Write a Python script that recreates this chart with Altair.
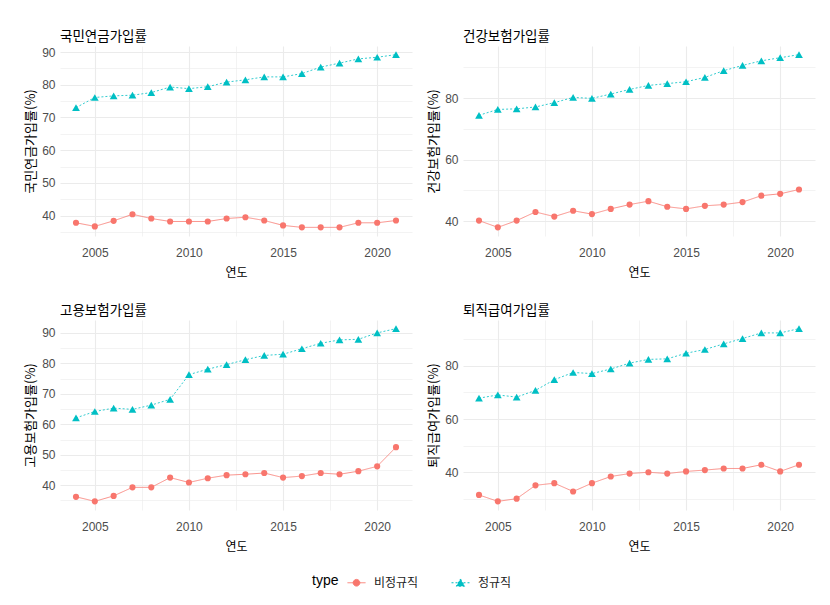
import altair as alt
import pandas as pd

years = list(range(2004, 2022))
types = ["비정규직", "정규직"]
colors = ["#F8766D", "#00BFC4"]
dashes = [[1, 0], [2, 2]]

panel_titles = ["국민연금가입률", "건강보험가입률", "고용보험가입률", "퇴직급여가입률"]

pension_nonreg = [37.8, 36.7, 38.4, 40.4, 39.1, 38.2, 38.2, 38.2, 39.1, 39.5, 38.5, 37.0, 36.4, 36.4, 36.4, 37.8, 37.8, 38.5]
pension_reg = [73.0, 76.1, 76.6, 76.8, 77.6, 79.3, 78.8, 79.4, 80.8, 81.5, 82.4, 82.4, 83.4, 85.4, 86.6, 87.9, 88.4, 89.2]

health_nonreg = [40.2, 38.0, 40.2, 43.0, 41.5, 43.4, 42.3, 44.0, 45.4, 46.5, 44.7, 44.0, 45.0, 45.4, 46.2, 48.3, 48.9, 50.3]
health_reg = [74.4, 76.3, 76.5, 77.1, 78.5, 80.2, 79.9, 81.3, 82.8, 84.1, 84.7, 85.3, 86.7, 88.9, 90.6, 92.1, 93.1, 94.1]

employ_nonreg = [36.2, 34.7, 36.5, 39.3, 39.3, 42.5, 40.9, 42.3, 43.3, 43.6, 44.0, 42.5, 43.0, 44.0, 43.6, 44.6, 46.2, 52.5]
employ_reg = [62.1, 64.2, 65.3, 64.9, 66.3, 68.2, 76.3, 78.1, 79.6, 81.2, 82.6, 83.0, 84.8, 86.6, 87.7, 87.9, 90.0, 91.4]

retire_nonreg = [31.6, 29.2, 30.2, 35.2, 36.0, 32.9, 36.0, 38.5, 39.6, 40.1, 39.6, 40.4, 40.9, 41.5, 41.5, 42.9, 40.4, 42.9]
retire_reg = [67.8, 69.0, 68.2, 70.7, 74.7, 77.4, 77.0, 78.7, 80.9, 82.3, 82.5, 84.6, 86.0, 88.1, 90.1, 92.2, 92.2, 93.8]

x_ticks = [2005, 2007.5, 2010, 2012.5, 2015, 2017.5, 2020]
y_ticks_10 = [35, 40, 45, 50, 55, 60, 65, 70, 75, 80, 85, 90]
y_ticks_20 = [30, 40, 50, 60, 70, 80, 90]

FONT = "Liberation Sans, Noto Sans CJK KR"
KFONT = "Noto Sans CJK KR"

# legend symbols: a line segment with the marker on it
circle_path = "M-1,0L1,0M0.37,0A0.37,0.37 0 1,1 -0.37,0A0.37,0.37 0 1,1 0.37,0Z"
tri_path = "M-1,0L1,0M0,-0.42L0.46,0.38L-0.46,0.38Z"

legend = alt.Legend(
    title="type",
    orient="none",
    legendX=252,
    legendY=527,
    direction="horizontal",
    titleOrient="left",
    titleFont=FONT,
    titleFontSize=14,
    titleFontWeight="normal",
    titleColor="#000000",
    titlePadding=8,
    labelFont=KFONT,
    labelFontSize=12,
    labelColor="#1a1a1a",
    labelOffset=8,
    columnPadding=30,
    symbolSize=324,
    symbolStrokeWidth=1,
    symbolOpacity=1,
)


def panel(title, nonreg, reg, yvals, major_step, with_legend=False):
    df = pd.DataFrame({
        "연도": years + years,
        "value": nonreg + reg,
        "type": [types[0]] * len(years) + [types[1]] * len(years),
    })
    lo = min(nonreg + reg)
    hi = max(nonreg + reg)
    pad = 0.05 * (hi - lo)
    ydom = [lo - pad, hi + pad]
    xpad = 0.05 * (years[-1] - years[0])
    xdom = [years[0] - xpad, years[-1] + xpad]

    xaxis = alt.Axis(
        title="연도",
        values=x_ticks,
        labelExpr="datum.value % 5 === 0 ? datum.label : ''",
        format="d",
        grid=True,
        ticks=False,
        domain=False,
        labelPadding=11,
        titlePadding=9,
        gridColor="#EBEBEB",
        gridWidth={"condition": {"test": "datum.value % 5 !== 0", "value": 0.6}, "value": 1.1},
        labelFlush=False,
    )
    yaxis = alt.Axis(
        title=f"{title}(%)",
        values=[v for v in yvals if ydom[0] <= v <= ydom[1]],
        labelExpr=f"datum.value % {major_step} === 0 ? datum.label : ''",
        grid=True,
        ticks=False,
        domain=False,
        labelPadding=5,
        titlePadding=4,
        titleFontSize=13,
        gridColor="#EBEBEB",
        gridWidth={"condition": {"test": f"datum.value % {major_step} !== 0", "value": 0.6}, "value": 1.1},
    )
    x = alt.X("연도:Q", scale=alt.Scale(domain=xdom, nice=False, zero=False), axis=xaxis)
    y = alt.Y("value:Q", scale=alt.Scale(domain=ydom, nice=False, zero=False), axis=yaxis)

    base = alt.Chart(df)
    layers = []
    shapes = ["circle", "triangle-up"]
    sizes = [38, 60]
    for i, t in enumerate(types):
        sub = base.transform_filter(alt.datum.type == t)
        layers.append(sub.mark_line(strokeWidth=1, opacity=0.8, color=colors[i],
                                    strokeDash=dashes[i]).encode(x=x, y=y))
    for i, t in enumerate(types):
        sub = base.transform_filter(alt.datum.type == t)
        layers.append(sub.mark_point(filled=True, opacity=1, color=colors[i],
                                     shape=shapes[i], size=sizes[i]).encode(x=x, y=y))
    if with_legend:
        leg = base.transform_filter("false").mark_point(filled=True, opacity=1).encode(
            x=x, y=y,
            fill=alt.Fill("type:N", scale=alt.Scale(domain=types, range=colors), legend=legend),
            stroke=alt.Stroke("type:N", scale=alt.Scale(domain=types, range=colors), legend=legend),
            shape=alt.Shape("type:N", scale=alt.Scale(domain=types, range=[circle_path, tri_path]), legend=legend),
            strokeDash=alt.StrokeDash("type:N", scale=alt.Scale(domain=types, range=dashes), legend=legend),
        )
        layers.append(leg)
    return alt.layer(*layers).properties(
        width=352,
        height=190,
        title=alt.TitleParams(text=title, anchor="start", frame="group", fontSize=13.5,
                              font=KFONT, fontWeight="normal", color="#000000", offset=3),
    )


p1 = panel(panel_titles[0], pension_nonreg, pension_reg, y_ticks_10, 10, with_legend=True)
p2 = panel(panel_titles[1], health_nonreg, health_reg, y_ticks_20, 20)
p3 = panel(panel_titles[2], employ_nonreg, employ_reg, y_ticks_10, 10)
p4 = panel(panel_titles[3], retire_nonreg, retire_reg, y_ticks_20, 20)

chart = alt.vconcat(
    alt.hconcat(p1, p2, spacing=15),
    alt.hconcat(p3, p4, spacing=15),
    spacing=25,
).properties(
    padding={"left": 16, "top": 21, "right": 2, "bottom": 2},
    background="white",
).configure(
    font=FONT,
).configure_view(
    stroke=None,
).configure_axis(
    labelFontSize=12,
    labelColor="#4D4D4D",
    titleFont=KFONT,
    titleFontSize=12,
    titleFontWeight="normal",
    titleColor="#000000",
)

chart.save("out.html", embed_options={"renderer": "svg", "actions": False})
